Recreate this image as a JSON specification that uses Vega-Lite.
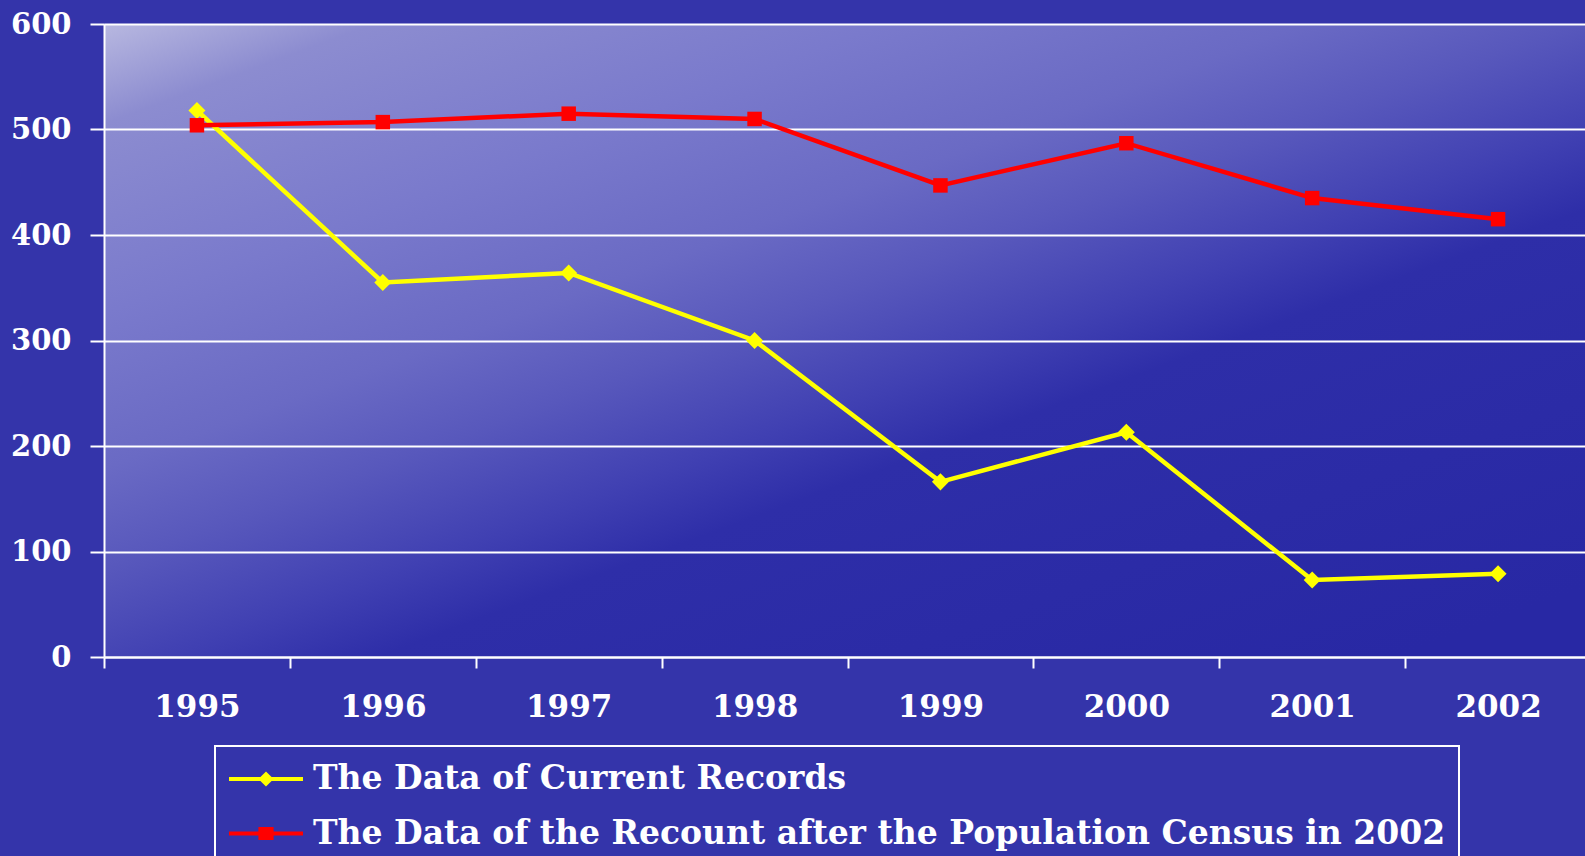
{
  "$schema": "https://vega.github.io/schema/vega-lite/v6.json",
  "autosize": "none",
  "padding": {"left": 104, "top": 24, "right": 0, "bottom": 199},
  "width": 1487,
  "height": 633,
  "background": "#3434aa",
  "data": {
    "values": [
      {"year": "1995", "series": "The Data of Current Records", "value": 518},
      {"year": "1996", "series": "The Data of Current Records", "value": 355},
      {"year": "1997", "series": "The Data of Current Records", "value": 364},
      {"year": "1998", "series": "The Data of Current Records", "value": 300},
      {"year": "1999", "series": "The Data of Current Records", "value": 166},
      {"year": "2000", "series": "The Data of Current Records", "value": 213},
      {"year": "2001", "series": "The Data of Current Records", "value": 73},
      {"year": "2002", "series": "The Data of Current Records", "value": 79},
      {"year": "1995", "series": "The Data of the Recount after the Population Census in 2002", "value": 504},
      {"year": "1996", "series": "The Data of the Recount after the Population Census in 2002", "value": 507},
      {"year": "1997", "series": "The Data of the Recount after the Population Census in 2002", "value": 515},
      {"year": "1998", "series": "The Data of the Recount after the Population Census in 2002", "value": 510},
      {"year": "1999", "series": "The Data of the Recount after the Population Census in 2002", "value": 447},
      {"year": "2000", "series": "The Data of the Recount after the Population Census in 2002", "value": 487},
      {"year": "2001", "series": "The Data of the Recount after the Population Census in 2002", "value": 435},
      {"year": "2002", "series": "The Data of the Recount after the Population Census in 2002", "value": 415}
    ]
  },
  "encoding": {
    "x": {
      "field": "year", "type": "ordinal", "title": null,
      "scale": {"paddingInner": 0, "paddingOuter": 0},
      "axis": {
        "labelAngle": 0, "tickBand": "extent", "tickSize": 11, "tickWidth": 2, "tickColor": "white",
        "domainColor": "white", "domainWidth": 2, "labelPadding": 24,
        "labelFont": "DejaVu Serif", "labelFontWeight": "bold", "labelFontSize": 31, "labelColor": "white",
        "grid": false
      }
    },
    "y": {
      "field": "value", "type": "quantitative", "title": null,
      "scale": {"domain": [0, 600], "nice": false},
      "axis": {
        "values": [0, 100, 200, 300, 400, 500, 600],
        "tickSize": 14, "tickWidth": 2, "tickColor": "white",
        "domainColor": "white", "domainWidth": 2, "labelPadding": 19,
        "labelFont": "DejaVu Serif", "labelFontWeight": "bold", "labelFontSize": 29, "labelColor": "white",
        "grid": true, "gridColor": "white", "gridWidth": 2, "gridOpacity": 1
      }
    }
  },
  "layer": [
    {
      "transform": [{"filter": "datum.series == 'The Data of Current Records'"}],
      "mark": {"type": "line", "strokeWidth": 4.5, "color": "#ffff00"}
    },
    {
      "transform": [{"filter": "datum.series != 'The Data of Current Records'"}],
      "mark": {"type": "line", "strokeWidth": 4.5, "color": "#ff0000"}
    },
    {
      "transform": [{"filter": "datum.series == 'The Data of Current Records'"}],
      "mark": {"type": "point", "shape": "diamond", "filled": true, "opacity": 1, "color": "#ffff00", "size": 290}
    },
    {
      "transform": [{"filter": "datum.series != 'The Data of Current Records'"}],
      "mark": {"type": "point", "shape": "square", "filled": true, "opacity": 1, "color": "#ff0000", "size": 210}
    },
    {
      "mark": {"type": "point", "filled": true, "opacity": 0},
      "encoding": {
        "color": {
          "field": "series", "type": "nominal",
          "scale": {
            "domain": ["The Data of Current Records", "The Data of the Recount after the Population Census in 2002"],
            "range": ["#ffff00", "#ff0000"]
          },
          "legend": {
            "title": null, "orient": "none", "legendX": 111, "legendY": 722,
            "strokeColor": "white", "padding": 13,
            "symbolSize": 1600, "symbolOffset": 18, "labelOffset": 27, "rowPadding": 17.5,
            "symbolOpacity": 1, "symbolStrokeWidth": 0,
            "labelFont": "DejaVu Serif", "labelFontWeight": "bold", "labelFontSize": 33, "labelColor": "white", "labelLimit": 0,
            "encode": {
              "legend": {"update": {"strokeWidth": {"value": 2}}}
            }
          }
        },
        "shape": {
          "field": "series", "type": "nominal",
          "scale": {
            "domain": ["The Data of Current Records", "The Data of the Recount after the Population Census in 2002"],
            "range": [
              "M-1.85,-0.1L-0.28,-0.1L0,-0.37L0.28,-0.1L1.85,-0.1L1.85,0.1L0.28,0.1L0,0.37L-0.28,0.1L-1.85,0.1Z",
              "M-1.85,-0.1L-0.38,-0.1L-0.38,-0.33L0.38,-0.33L0.38,-0.1L1.85,-0.1L1.85,0.1L0.38,0.1L0.38,0.33L-0.38,0.33L-0.38,0.1L-1.85,0.1Z"
            ]
          },
          "legend": {
            "title": null, "orient": "none", "legendX": 111, "legendY": 722,
            "strokeColor": "white", "padding": 13,
            "symbolSize": 1600, "symbolOffset": 18, "labelOffset": 27, "rowPadding": 17.5,
            "symbolOpacity": 1, "symbolStrokeWidth": 0,
            "labelFont": "DejaVu Serif", "labelFontWeight": "bold", "labelFontSize": 33, "labelColor": "white", "labelLimit": 0,
            "encode": {
              "legend": {"update": {"strokeWidth": {"value": 2}}}
            }
          }
        }
      }
    }
  ],
  "config": {
    "view": {
      "stroke": null,
      "fill": {
        "gradient": "linear", "x1": 0, "y1": 0, "x2": 0.87, "y2": 1,
        "stops": [
          {"offset": 0, "color": "#b8b8e0"},
          {"offset": 0.09, "color": "#8c8cd0"},
          {"offset": 0.26, "color": "#7a7acc"},
          {"offset": 0.4, "color": "#6a6ac4"},
          {"offset": 0.49, "color": "#5858bc"},
          {"offset": 0.59, "color": "#4040b2"},
          {"offset": 0.66, "color": "#2e2ea8"},
          {"offset": 1, "color": "#2828a4"}
        ]
      }
    }
  }
}
